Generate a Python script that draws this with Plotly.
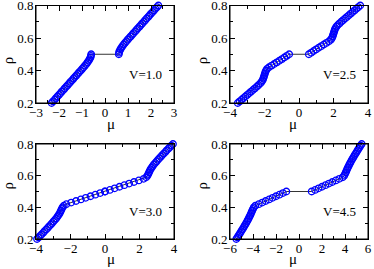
import plotly.graph_objects as go

# density values (left branch: 0.20..0.50, right branch: 0.50..0.80)
rho_left = [0.20, 0.21, 0.22, 0.23, 0.24, 0.25, 0.26, 0.27, 0.28, 0.29, 0.30,
            0.31, 0.32, 0.33, 0.34, 0.35, 0.36, 0.37, 0.38, 0.39, 0.40,
            0.41, 0.42, 0.43, 0.44, 0.45, 0.46, 0.47, 0.48, 0.49, 0.50]
rho_right = [0.50, 0.51, 0.52, 0.53, 0.54, 0.55, 0.56, 0.57, 0.58, 0.59, 0.60,
             0.61, 0.62, 0.63, 0.64, 0.65, 0.66, 0.67, 0.68, 0.69, 0.70,
             0.71, 0.72, 0.73, 0.74, 0.75, 0.76, 0.77, 0.78, 0.79, 0.80]

# chemical potential, V = 1.0
mu_v10_left = [-2.32, -2.26, -2.19, -2.13, -2.07, -2.00, -1.94, -1.88, -1.81, -1.75, -1.69,
               -1.62, -1.56, -1.50, -1.43, -1.37, -1.31, -1.24, -1.18, -1.12, -1.05,
               -0.99, -0.93, -0.87, -0.81, -0.76, -0.71, -0.67, -0.63, -0.61, -0.60]
mu_v10_right = [0.60, 0.61, 0.63, 0.67, 0.71, 0.76, 0.81, 0.87, 0.93, 0.99, 1.05,
                1.12, 1.18, 1.24, 1.31, 1.37, 1.43, 1.50, 1.56, 1.62, 1.69,
                1.75, 1.81, 1.88, 1.94, 2.00, 2.07, 2.13, 2.19, 2.26, 2.32]

# V = 2.5
mu_v25_left = [-3.55, -3.44, -3.33, -3.22, -3.11, -3.00, -2.89, -2.78, -2.67, -2.56, -2.45,
               -2.35, -2.25, -2.17, -2.11, -2.07, -2.04, -2.01, -1.98, -1.95, -1.91,
               -1.85, -1.74, -1.59, -1.44, -1.29, -1.14, -0.99, -0.85, -0.71, -0.57]
mu_v25_right = [0.57, 0.71, 0.85, 0.99, 1.14, 1.29, 1.44, 1.59, 1.74, 1.85, 1.91,
                1.95, 1.98, 2.01, 2.04, 2.07, 2.11, 2.17, 2.25, 2.35, 2.45,
                2.56, 2.67, 2.78, 2.89, 3.00, 3.11, 3.22, 3.33, 3.44, 3.55]

# V = 3.0
mu_v30_left = [-3.94, -3.85, -3.76, -3.67, -3.58, -3.50, -3.41, -3.32, -3.24, -3.15, -3.07,
               -2.99, -2.91, -2.83, -2.76, -2.70, -2.64, -2.59, -2.55, -2.51, -2.46,
               -2.39, -2.24, -1.96, -1.68, -1.40, -1.12, -0.84, -0.56, -0.28, 0.00]
mu_v30_right = [0.00, 0.28, 0.56, 0.84, 1.12, 1.40, 1.68, 1.96, 2.24, 2.39, 2.46,
                2.51, 2.55, 2.59, 2.64, 2.70, 2.76, 2.83, 2.91, 2.99, 3.07,
                3.15, 3.24, 3.32, 3.41, 3.50, 3.58, 3.67, 3.76, 3.85, 3.94]

# V = 4.5
mu_v45_left = [-5.45, -5.36, -5.27, -5.18, -5.10, -5.01, -4.93, -4.84, -4.76, -4.68, -4.60,
               -4.52, -4.45, -4.38, -4.31, -4.24, -4.18, -4.12, -4.06, -4.00, -3.93,
               -3.80, -3.50, -3.20, -2.90, -2.60, -2.30, -2.00, -1.70, -1.40, -1.10]
mu_v45_right = [1.10, 1.40, 1.70, 2.00, 2.30, 2.60, 2.90, 3.20, 3.50, 3.80, 3.93,
                4.00, 4.06, 4.12, 4.18, 4.24, 4.31, 4.38, 4.45, 4.52, 4.60,
                4.68, 4.76, 4.84, 4.93, 5.01, 5.10, 5.18, 5.27, 5.36, 5.45]

panel_labels = ["V=1.0", "V=2.5", "V=3.0", "V=4.5"]
x_ranges = [[-3, 3], [-4, 4], [-4, 4], [-6, 6]]
x_dticks = [1, 2, 2, 2]
x_minor = [0.5, 1, 1, 1]
y_range = [0.19999, 0.80001]
y_tickvals = [0.2, 0.4, 0.6, 0.8]
y_ticktext = ["0.2", "0.4", "0.6", "0.8"]
x_title = "μ"
y_title = "ρ"

panels = [
    (mu_v10_left + mu_v10_right, rho_left + rho_right),
    (mu_v25_left + mu_v25_right, rho_left + rho_right),
    (mu_v30_left + mu_v30_right, rho_left + rho_right),
    (mu_v45_left + mu_v45_right, rho_left + rho_right),
]

FONT = "Liberation Serif"
W, H = 374, 269
xdoms = [[36 / W, 174 / W], [230 / W, 368 / W], [36 / W, 174 / W], [230 / W, 368 / W]]
ydoms = [[1 - 103 / H, 1 - 5.5 / H], [1 - 103 / H, 1 - 5.5 / H],
         [1 - 239 / H, 1 - 144 / H], [1 - 239 / H, 1 - 144 / H]]
xtitle_y = [1 - 124 / H, 1 - 124 / H, 1 - 259 / H, 1 - 259 / H]
ytitle_x = [8 / W, 202 / W, 8 / W, 202 / W]

fig = go.Figure()
layout = {}
annotations = []
shapes = []
for i, (mu, rho) in enumerate(panels):
    n = "" if i == 0 else str(i + 1)
    fig.add_trace(go.Scatter(
        x=mu, y=rho, mode="lines+markers",
        xaxis="x" + n, yaxis="y" + n,
        line=dict(color="black", width=0.8),
        marker=dict(symbol="circle-open", size=6.5, color="#0000ff",
                    line=dict(width=1.3, color="#0000ff")),
        showlegend=False, cliponaxis=False,
    ))
    layout["xaxis" + n] = dict(
        domain=xdoms[i], anchor="y" + n, range=x_ranges[i], dtick=x_dticks[i],
        tick0=0, ticks="inside", ticklen=5, tickwidth=1, tickcolor="black",
        showline=True, linecolor="black", linewidth=1, mirror="allticks",
        showgrid=False, zeroline=False, ticklabelstandoff=-3,
        ticklabeloverflow="allow",
        minor=dict(dtick=x_minor[i], tick0=0, ticks="inside", ticklen=3,
                   tickcolor="black", showgrid=False),
        tickfont=dict(family=FONT, size=13, color="black"),
        automargin=False,
    )
    layout["yaxis" + n] = dict(
        domain=ydoms[i], anchor="x" + n, range=y_range,
        tickvals=y_tickvals, ticktext=y_ticktext,
        ticks="inside", ticklen=5, tickwidth=1, tickcolor="black",
        showline=True, linecolor="black", linewidth=1, mirror="allticks",
        showgrid=False, zeroline=False, ticklabelstandoff=-1,
        ticklabeloverflow="allow",
        minor=dict(dtick=0.1, tick0=0.2, ticks="inside", ticklen=3,
                   tickcolor="black", showgrid=False),
        tickfont=dict(family=FONT, size=13, color="black"),
        automargin=False,
    )
    shapes.append(dict(type="rect", xref="x" + n + " domain", yref="y" + n + " domain",
                       x0=0, x1=1, y0=0, y1=1, line=dict(color="black", width=1),
                       layer="above"))
    xr = x_ranges[i]
    annotations.append(dict(
        x=xr[0] + 0.79 * (xr[1] - xr[0]), y=0.375, xref="x" + n, yref="y" + n,
        text=panel_labels[i], showarrow=False,
        font=dict(family=FONT, size=13, color="black"),
    ))
    annotations.append(dict(
        x=(xdoms[i][0] + xdoms[i][1]) / 2, y=xtitle_y[i], xref="paper", yref="paper",
        text=x_title, showarrow=False, yanchor="middle",
        font=dict(family=FONT, size=15, color="black"),
    ))
    annotations.append(dict(
        x=ytitle_x[i], y=(ydoms[i][0] + ydoms[i][1]) / 2, xref="paper", yref="paper",
        text=y_title, showarrow=False, textangle=-90, xanchor="center",
        font=dict(family=FONT, size=15, color="black"),
    ))

fig.update_layout(
    width=W, height=H,
    margin=dict(l=0, r=0, t=0, b=0),
    paper_bgcolor="white", plot_bgcolor="white",
    annotations=annotations, shapes=shapes,
    hovermode=False,
    **layout,
)
fig.write_html("out.html",
               config={"displayModeBar": False, "staticPlot": True},
               post_script="document.body.style.margin='0px';document.body.style.overflow='hidden';")
